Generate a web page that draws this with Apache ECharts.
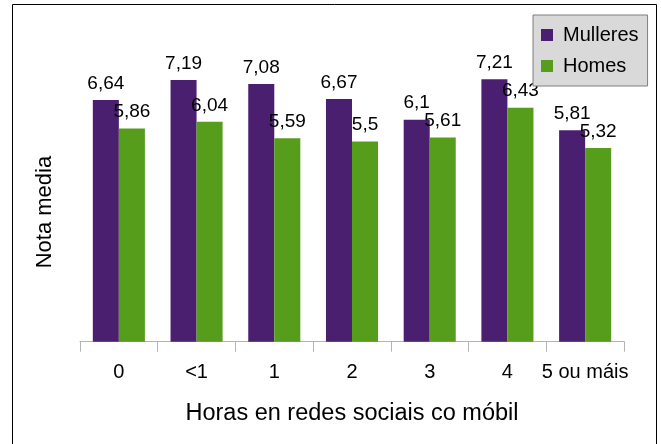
<!doctype html>
<html>
<head>
	<meta charset="utf-8">
	<title>Nota media</title>
	<script src="https://cdn.jsdelivr.net/npm/echarts@6/dist/echarts.min.js"></script>
	<style type="text/css">
		html, body {
			margin: 0;
			padding: 0;
			background: #fff;
		}
		#chart {
			width: 661px;
			height: 444px;
		}
	</style>
</head>
<body>
	<div id="chart"></div>
	<script type="text/javascript">
		var categories = ['0', '<1', '1', '2', '3', '4', '5 ou máis'];
		var mulleres = [6.64, 7.19, 7.08, 6.67, 6.1, 7.21, 5.81];
		var homes = [5.86, 6.04, 5.59, 5.5, 5.61, 6.43, 5.32];

		var fontName = '"Liberation Sans", Arial, sans-serif';

		function commaLabel(p) {
			return String(p.value).replace('.', ',');
		}

		var myChart = echarts.init(document.getElementById('chart'));
		var option = {
			animation: false,
			textStyle: {
				fontFamily: fontName
			},
			graphic: [{
				type: 'rect',
				shape: { x: 12.5, y: 4.5, width: 644, height: 460 },
				style: { fill: 'none', stroke: '#000', lineWidth: 1 },
				silent: true
			}],
			grid: {
				top: 50.5,
				left: 80,
				right: 37,
				bottom: 102.3
			},
			legend: {
				orient: 'vertical',
				left: 533,
				top: 15,
				padding: [10, 9, 10, 8],
				itemGap: 11,
				itemWidth: 12,
				itemHeight: 12,
				icon: 'rect',
				backgroundColor: '#d9d9d9',
				borderColor: '#7f7f7f',
				borderWidth: 1,
				textStyle: {
					fontFamily: fontName,
					fontSize: 20,
					color: '#000',
					padding: [0, 0, 0, 5]
				},
				data: ['Mulleres', 'Homes']
			},
			color: ['#4b1f6f', '#579d1c'],
			xAxis: {
				type: 'category',
				data: categories,
				name: 'Horas en redes sociais co móbil',
				nameLocation: 'middle',
				nameGap: 60,
				nameTextStyle: {
					fontFamily: fontName,
					fontSize: 23.5,
					color: '#000'
				},
				axisLine: {
					lineStyle: { color: '#b3b3b3', width: 1 }
				},
				axisTick: {
					show: true,
					length: 10,
					lineStyle: { color: '#b3b3b3', width: 1 }
				},
				axisLabel: {
					margin: 21,
					fontSize: 20,
					color: '#000',
					interval: 0
				}
			},
			yAxis: {
				type: 'value',
				min: 0,
				max: 8,
				name: 'Nota media',
				nameLocation: 'middle',
				nameRotate: 90,
				nameGap: 24,
				nameTextStyle: {
					fontFamily: fontName,
					fontSize: 22,
					color: '#000',
					padding: [0, 32, 0, 0]
				},
				axisLine: { show: false },
				axisTick: { show: false },
				axisLabel: { show: false },
				splitLine: { show: false }
			},
			series: [{
				name: 'Mulleres',
				type: 'bar',
				data: mulleres,
				barGap: '0%',
				barCategoryGap: '33%',
				label: {
					show: true,
					position: 'top',
					distance: 7,
					fontSize: 19,
					color: '#000',
					formatter: commaLabel
				}
			}, {
				name: 'Homes',
				type: 'bar',
				data: homes,
				barGap: '0%',
				barCategoryGap: '33%',
				label: {
					show: true,
					position: 'top',
					distance: 7,
					fontSize: 19,
					color: '#000',
					formatter: commaLabel
				}
			}]
		};
		myChart.setOption(option);
	</script>
</body>
</html>
